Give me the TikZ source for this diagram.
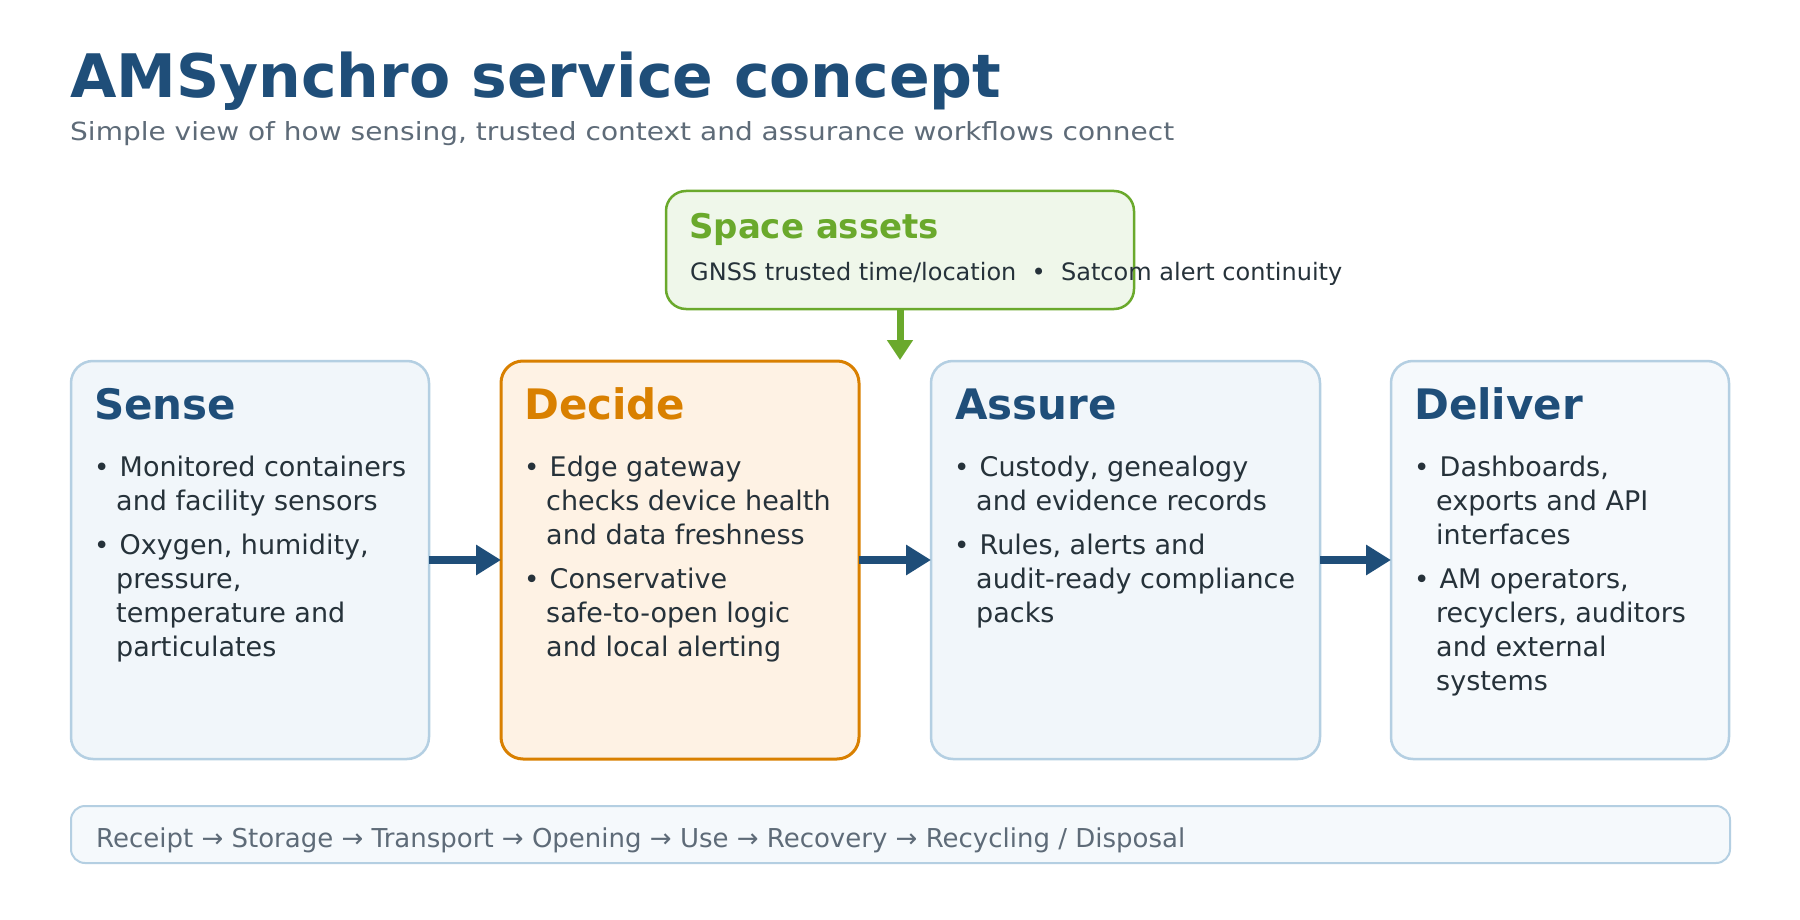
\documentclass[tikz,border=0pt]{standalone}
\usepackage{fontspec}
\setmainfont{DejaVu Sans}
\usetikzlibrary{arrows.meta}
\definecolor{navy}{HTML}{1F4E79}
\definecolor{subgrey}{HTML}{5E6B78}
\definecolor{bodytxt}{HTML}{26323A}
\definecolor{bluefill}{HTML}{F1F6FA}
\definecolor{bluefilltwo}{HTML}{F5F9FC}
\definecolor{blueedge}{HTML}{B4CFE2}
\definecolor{orangefill}{HTML}{FEF2E4}
\definecolor{orangeedge}{HTML}{D98000}
\definecolor{greenfill}{HTML}{EFF7EA}
\definecolor{greenedge}{HTML}{6AA92C}
\newcommand{\blines}[1]{\begin{tabular}[t]{@{}l@{}}#1\end{tabular}}
\tikzset{
  card/.style={draw=blueedge, fill=bluefill, line width=2.5pt, rounded corners=22pt,
    anchor=north west, inner sep=0pt, outer sep=0pt, minimum height=398pt},
  cardtitle/.style={anchor=base west, inner sep=0pt, text=navy,
    font=\fontsize{42}{50}\selectfont\bfseries},
  bulletdot/.style={anchor=base west, inner sep=0pt, text=bodytxt,
    font=\fontsize{26}{34}\selectfont},
  bullettext/.style={anchor=base west, inner sep=0pt, text=bodytxt,
    font=\fontsize{27}{34}\selectfont},
  flow/.style={draw=navy, line width=8pt, -{Triangle[length=25pt,width=29pt]}},
}
\begin{document}
\begin{tikzpicture}[x=1pt,y=-1pt]
\useasboundingbox[fill=white] (0,0) rectangle (1800,920);

% title
\node[anchor=base west, inner sep=0pt, text=navy, font=\fontsize{60}{70}\selectfont\bfseries]
  (title) at (70,98) {AMSynchro service concept};
\node[anchor=base west, inner sep=0pt, text=subgrey, font=\fontsize{25}{30}\selectfont]
  (subtitle) at (70,141) {\scalebox{1.12}[1]{Simple view of how sensing, trusted context and assurance workflows connect}};

% space assets
\node[draw=greenedge, fill=greenfill, line width=2.5pt, rounded corners=20pt, anchor=north west,
  inner sep=0pt, outer sep=0pt, minimum width=468pt, minimum height=118pt] (space) at (666,191) {};
\node[anchor=base west, inner sep=0pt, text=greenedge, font=\fontsize{34}{40}\selectfont\bfseries]
  (spacetitle) at (689,239) {Space assets};
\node[anchor=base west, inner sep=0pt, text=bodytxt, font=\fontsize{24}{28}\selectfont]
  (spacetext) at (690,280) {GNSS trusted time/location \ • \ Satcom alert continuity};
\coordinate (spacetip) at (space.south |- 0,360);
\draw[draw=greenedge, line width=7pt, -{Triangle[length=20pt,width=25pt]}] (space.south) -- (spacetip);

% cards
\node[card, minimum width=358pt] (sense) at (71,361) {};
\node[card, minimum width=358pt, draw=orangeedge, fill=orangefill, line width=3pt] (decide) at (501,361) {};
\node[card, minimum width=389pt] (assure) at (931,361) {};
\node[card, minimum width=338pt, fill=bluefilltwo] (deliver) at (1391,361) {};

% Sense
\node[cardtitle] (senseT) at (94,419) {Sense};
\node[bulletdot] (senseD1) at (94,476) {•};
\node[bullettext] (senseB1) at (116,476) {\blines{\hspace*{3.5pt}Monitored containers\\and facility sensors}};
\node[bulletdot] (senseD2) at (94,554) {•};
\node[bullettext] (senseB2) at (116,554) {\blines{\hspace*{3.5pt}Oxygen, humidity,\\pressure,\\temperature and\\particulates}};

% Decide
\node[cardtitle, text=orangeedge] (decideT) at (524,419) {Decide};
\node[bulletdot] (decideD1) at (524,476) {•};
\node[bullettext] (decideB1) at (546,476) {\blines{\hspace*{3.5pt}Edge gateway\\checks device health\\and data freshness}};
\node[bulletdot] (decideD2) at (524,588) {•};
\node[bullettext] (decideB2) at (546,588) {\blines{\hspace*{3.5pt}Conservative\\safe-to-open logic\\and local alerting}};

% Assure
\node[cardtitle] (assureT) at (955,419) {Assure};
\node[bulletdot] (assureD1) at (954,476) {•};
\node[bullettext] (assureB1) at (976,476) {\blines{\hspace*{3.5pt}Custody, genealogy\\and evidence records}};
\node[bulletdot] (assureD2) at (954,554) {•};
\node[bullettext] (assureB2) at (976,554) {\blines{\hspace*{3.5pt}Rules, alerts and\\audit-ready compliance\\packs}};

% Deliver
\node[cardtitle] (deliverT) at (1414,419) {Deliver};
\node[bulletdot] (deliverD1) at (1414,476) {•};
\node[bullettext] (deliverB1) at (1436,476) {\blines{\hspace*{3.5pt}Dashboards,\\exports and API\\interfaces}};
\node[bulletdot] (deliverD2) at (1414,588) {•};
\node[bullettext] (deliverB2) at (1436,588) {\blines{\hspace*{3.5pt}AM operators,\\recyclers, auditors\\and external\\systems}};

% flow arrows
\draw[flow] (sense.east) -- (decide.west);
\draw[flow] (decide.east) -- (assure.west);
\draw[flow] (assure.east) -- (deliver.west);

% lifecycle bar
\node[draw=blueedge, fill=bluefilltwo, line width=2pt, rounded corners=14pt, anchor=north west,
  inner sep=0pt, outer sep=0pt, minimum width=1659pt, minimum height=57pt] (lifecycle) at (71,806) {};
\node[anchor=base west, inner sep=0pt, text=subgrey, font=\fontsize{26}{30}\selectfont]
  (lifecycleT) at (96,847) {Receipt → Storage → Transport → Opening → Use → Recovery → Recycling / Disposal};
\end{tikzpicture}
\end{document}
